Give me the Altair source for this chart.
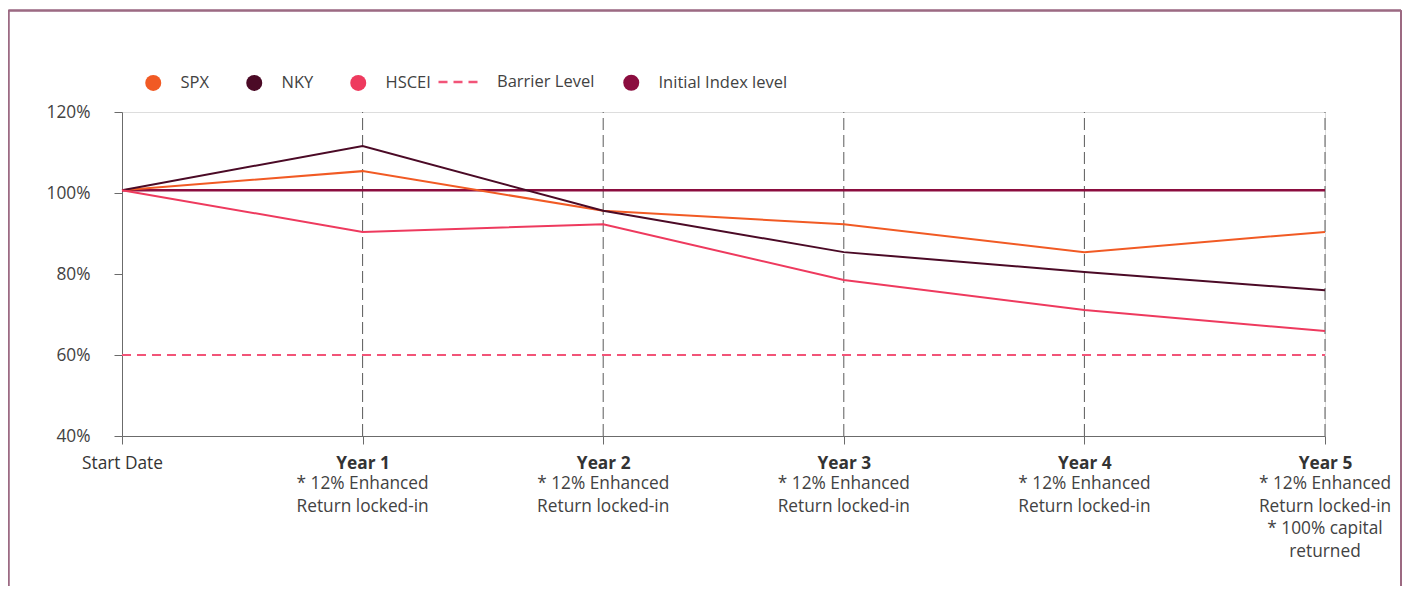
import json
import altair as alt
import pandas as pd

# ---- data ----
periods = [0, 1, 2, 3, 4, 5]
period_labels = ["Start Date", "Year 1", "Year 2", "Year 3", "Year 4", "Year 5"]
spx = [100.7, 105.4, 95.6, 92.3, 85.4, 90.4]
nky = [100.7, 111.6, 95.6, 85.4, 80.5, 76.0]
hscei = [100.7, 90.4, 92.3, 78.5, 71.1, 65.9]
initial_level = [100.7, 100.7]
barrier_level = [60, 60]
level_span = [0, 5]
note_periods = [1, 2, 3, 4, 5]
notes = [
    "* 12% Enhanced\nReturn locked-in",
    "* 12% Enhanced\nReturn locked-in",
    "* 12% Enhanced\nReturn locked-in",
    "* 12% Enhanced\nReturn locked-in",
    "* 12% Enhanced\nReturn locked-in\n* 100% capital\nreturned",
]
y_ticks = [40, 60, 80, 100, 120]
index_names = ["SPX", "NKY", "HSCEI"]
index_colors = ["#F15A24", "#4B0A26", "#EE3A5E"]
initial_name = ["Initial Index level"]
initial_color = ["#8B0D3F"]
barrier_name = ["Barrier Level"]
barrier_color = "#F25478"

FONT = "Open Sans"
FS = 17.3
LFS = 16.5
TXT = "#424242"

idx_df = pd.DataFrame(
    [{"period": p, "value": v, "series": n}
     for n, vals in zip(index_names, [spx, nky, hscei])
     for p, v in zip(periods, vals)]
)
init_df = pd.DataFrame({"period": level_span, "value": initial_level,
                        "series": initial_name * 2})
barrier_df = pd.DataFrame({"period": level_span, "value": barrier_level,
                           "series": barrier_name * 2})
grid_df = pd.DataFrame({"period": note_periods})
notes_df = pd.DataFrame({"period": note_periods, "note": notes})

x_scale = alt.Scale(domain=[0, 5], nice=False, zero=False)
y_scale = alt.Scale(domain=[40, 120], nice=False, zero=False)

label_expr = json.dumps(period_labels) + "[round(datum.value)]"

x_axis = alt.Axis(
    values=periods, labelExpr=label_expr, title=None, grid=False,
    domainColor="#6b6b6b", tickColor="#6b6b6b", tickSize=8, labelPadding=10,
    labelFont=FONT, labelFontSize=FS, labelColor="#333333", labelFlush=False,
    labelOverlap=False, labelBound=False,
    labelFontWeight={"condition": {"test": "datum.value == 0", "value": "normal"}, "value": "bold"},
)
y_axis = alt.Axis(
    values=y_ticks, labelExpr="datum.value + '%'", title=None, grid=False,
    domainColor="#6b6b6b", tickColor="#6b6b6b", tickSize=8, labelPadding=24,
    labelFont=FONT, labelFontSize=FS, labelColor=TXT,
)

leg_common = dict(orient="none", title=None, padding=0, labelFont=FONT,
                  labelFontSize=LFS, labelColor=TXT)

# vertical dashed year lines
grid = alt.Chart(grid_df).mark_rule(color="#5a5a5a", strokeWidth=1, strokeDash=[12, 5]).encode(
    x=alt.X("period:Q", scale=x_scale, axis=x_axis),
    y=alt.datum(40, scale=y_scale, axis=y_axis),
    y2=alt.datum(120),
)

barrier = alt.Chart(barrier_df).mark_line(color=barrier_color, strokeWidth=2).encode(
    x=alt.X("period:Q", scale=x_scale),
    y=alt.Y("value:Q", scale=y_scale),
    strokeDash=alt.StrokeDash(
        "series:N",
        scale=alt.Scale(domain=barrier_name, range=[[9, 6]]),
        legend=alt.Legend(
            legendX=315, legendY=-52, 
            symbolType="stroke", symbolSize=1681, symbolStrokeColor=barrier_color,
            symbolStrokeWidth=2.5, labelOffset=16, **leg_common,
        ),
    ),
)

initial = alt.Chart(init_df).mark_line(strokeWidth=2.5, color=initial_color[0]).encode(
    x=alt.X("period:Q", scale=x_scale),
    y=alt.Y("value:Q", scale=y_scale),
)

lines = alt.Chart(idx_df).mark_line(strokeWidth=2).encode(
    x=alt.X("period:Q", scale=x_scale),
    y=alt.Y("value:Q", scale=y_scale),
    color=alt.Color("series:N", scale=alt.Scale(domain=index_names, range=index_colors),
                    legend=None),
    order=alt.Order("period:Q"),
)

# legend carriers (no visible marks: all rows filtered out, legends come from scale domains)
idx_legend = alt.Chart(idx_df).transform_filter("false").mark_circle(opacity=1).encode(
    x=alt.X("period:Q", scale=x_scale),
    y=alt.Y("value:Q", scale=y_scale),
    fill=alt.Fill(
        "series:N",
        scale=alt.Scale(domain=index_names, range=index_colors),
        legend=alt.Legend(
            legendX=23, legendY=-37.5, direction="horizontal",
            symbolType="circle", symbolSize=256, symbolStrokeWidth=0,
            labelOffset=19, columnPadding=36, **leg_common,
        ),
    ),
)

init_legend = alt.Chart(init_df).transform_filter("false").mark_point(filled=True, opacity=1).encode(
    x=alt.X("period:Q", scale=x_scale),
    y=alt.Y("value:Q", scale=y_scale),
    shape=alt.Shape(
        "series:N",
        scale=alt.Scale(domain=initial_name, range=["circle"]),
        legend=alt.Legend(
            legendX=501, legendY=-37.5,
            symbolSize=256, symbolStrokeWidth=0, symbolFillColor=initial_color[0],
            labelOffset=19, **leg_common,
        ),
    ),
    color=alt.value(initial_color[0]),
)

note_text = alt.Chart(notes_df).mark_text(
    baseline="top", align="center", lineBreak="\n", lineHeight=22.5,
    font=FONT, fontSize=FS, color=TXT, dy=39,
).encode(
    x=alt.X("period:Q", scale=x_scale),
    y=alt.datum(40, scale=y_scale),
    text="note:N",
)

# decorative outer frame (top, left, right edges)
frame_color = "#9C6A82"
frame_top = alt.Chart(grid_df).mark_rule(color=frame_color, strokeWidth=1.5).encode(
    x=alt.value(-113.5), x2=alt.value(1279), y=alt.value(-101.5))
frame_left = alt.Chart(grid_df).mark_rule(color=frame_color, strokeWidth=1.5).encode(
    x=alt.value(-113.5), y=alt.value(-101.5), y2=alt.value(480))
frame_right = alt.Chart(grid_df).mark_rule(color=frame_color, strokeWidth=1.5).encode(
    x=alt.value(1279), y=alt.value(-101.5), y2=alt.value(480))

chart = alt.layer(
    grid, barrier, initial, lines, idx_legend, init_legend, note_text,
    frame_top, frame_left, frame_right
).resolve_scale(
    color="independent", fill="independent", strokeDash="independent", shape="independent"
).properties(
    width=1203, height=324,
    autosize=alt.AutoSizeParams(type="none"),
    padding={"left": 114, "top": 104, "right": 77, "bottom": 150},
    background="white",
).configure_view(stroke=None).configure(font=FONT)

chart.save("out.html", embed_options={"renderer": "svg", "actions": False})
